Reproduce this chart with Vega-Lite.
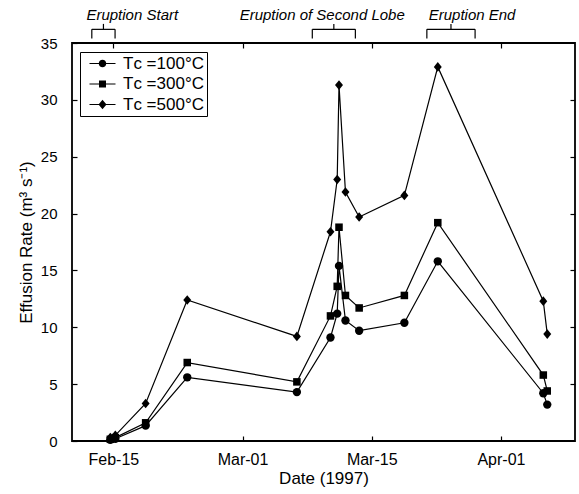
{
  "$schema": "https://vega.github.io/schema/vega-lite/v6.json",
  "width": 503,
  "height": 398,
  "autosize": {"type": "none"},
  "padding": {"left": 72, "top": 43, "right": 4, "bottom": 53},
  "config": {
    "view": {"stroke": "black", "strokeWidth": 1.8},
    "font": "Liberation Sans",
    "axis": {
      "grid": false,
      "domain": false,
      "tickColor": "black",
      "tickSize": -5,
      "tickWidth": 1.2,
      "labelColor": "black",
      "labelFont": "Liberation Sans",
      "labelFontSize": 16,
      "titleFont": "Liberation Sans",
      "titleFontSize": 17,
      "titleFontWeight": "normal",
      "titleColor": "black"
    }
  },
  "datasets": {
    "rates": [
      {"day": 44.65, "tc": 100, "rate": 0.1},
      {"day": 45.23, "tc": 100, "rate": 0.2},
      {"day": 48.75, "tc": 100, "rate": 1.35},
      {"day": 53.58, "tc": 100, "rate": 5.6},
      {"day": 66.31, "tc": 100, "rate": 4.3},
      {"day": 70.21, "tc": 100, "rate": 9.1},
      {"day": 70.99, "tc": 100, "rate": 11.2},
      {"day": 71.2, "tc": 100, "rate": 15.4},
      {"day": 71.95, "tc": 100, "rate": 10.6},
      {"day": 73.54, "tc": 100, "rate": 9.7},
      {"day": 78.79, "tc": 100, "rate": 10.4},
      {"day": 82.67, "tc": 100, "rate": 15.8},
      {"day": 94.92, "tc": 100, "rate": 4.2},
      {"day": 95.38, "tc": 100, "rate": 3.2},
      {"day": 44.65, "tc": 300, "rate": 0.15},
      {"day": 45.23, "tc": 300, "rate": 0.3},
      {"day": 48.75, "tc": 300, "rate": 1.6},
      {"day": 53.58, "tc": 300, "rate": 6.9},
      {"day": 66.31, "tc": 300, "rate": 5.2},
      {"day": 70.21, "tc": 300, "rate": 11.0},
      {"day": 70.99, "tc": 300, "rate": 13.6},
      {"day": 71.2, "tc": 300, "rate": 18.8},
      {"day": 71.95, "tc": 300, "rate": 12.8},
      {"day": 73.54, "tc": 300, "rate": 11.7},
      {"day": 78.79, "tc": 300, "rate": 12.8},
      {"day": 82.67, "tc": 300, "rate": 19.2},
      {"day": 94.92, "tc": 300, "rate": 5.8},
      {"day": 95.38, "tc": 300, "rate": 4.4},
      {"day": 44.65, "tc": 500, "rate": 0.3},
      {"day": 45.23, "tc": 500, "rate": 0.5},
      {"day": 48.75, "tc": 500, "rate": 3.3},
      {"day": 53.58, "tc": 500, "rate": 12.4},
      {"day": 66.31, "tc": 500, "rate": 9.2},
      {"day": 70.21, "tc": 500, "rate": 18.4},
      {"day": 70.99, "tc": 500, "rate": 23.0},
      {"day": 71.2, "tc": 500, "rate": 31.3},
      {"day": 71.95, "tc": 500, "rate": 21.9},
      {"day": 73.54, "tc": 500, "rate": 19.7},
      {"day": 78.79, "tc": 500, "rate": 21.6},
      {"day": 82.67, "tc": 500, "rate": 32.9},
      {"day": 94.92, "tc": 500, "rate": 12.3},
      {"day": 95.38, "tc": 500, "rate": 9.4}
    ],
    "events": [
      {"event": "Eruption Start", "start": 42.5, "end": 45.2, "labelx": 47.2},
      {"event": "Eruption of Second Lobe", "start": 68.1, "end": 73.1, "labelx": 69.25},
      {"event": "Eruption End", "start": 81.4, "end": 87.0, "labelx": 86.65}
    ]
  },
  "layer": [
    {
      "data": {"name": "rates"},
      "mark": {"type": "line", "color": "black", "strokeWidth": 1.2},
      "encoding": {
        "x": {
          "field": "day", "type": "quantitative",
          "scale": {"domain": [40.2, 98.6], "nice": false},
          "axis": {
            "orient": "bottom",
            "values": [45, 60, 75, 90],
            "labelExpr": "datum.value == 45 ? 'Feb-15' : datum.value == 60 ? 'Mar-01' : datum.value == 75 ? 'Mar-15' : 'Apr-01'",
            "title": "Date (1997)",
            "labelPadding": 15,
            "titlePadding": 3
          }
        },
        "y": {
          "field": "rate", "type": "quantitative",
          "scale": {"domain": [0, 35], "nice": false},
          "axis": {
            "orient": "left",
            "values": [0, 5, 10, 15, 20, 25, 30, 35],
            "labelFontSize": 15,
            "title": "Effusion Rate (m³ s⁻¹)",
            "labelPadding": 20,
            "titlePadding": 5
          }
        },
        "detail": {"field": "tc", "type": "nominal"}
      }
    },
    {
      "data": {"name": "rates"},
      "mark": {"type": "point", "filled": true, "color": "black", "size": 70, "opacity": 1},
      "encoding": {
        "x": {
          "field": "day", "type": "quantitative",
          "scale": {"domain": [40.2, 98.6], "nice": false},
          "axis": {"orient": "top", "values": [45, 60, 75, 90], "labels": false, "title": null}
        },
        "y": {
          "field": "rate", "type": "quantitative",
          "scale": {"domain": [0, 35], "nice": false},
          "axis": {"orient": "right", "values": [5, 10, 15, 20, 25, 30], "labels": false, "title": null}
        },
        "shape": {
          "field": "tc", "type": "nominal",
          "scale": {"domain": [100, 300, 500], "range": ["circle", "M-0.9,-0.9H0.9V0.9H-0.9Z", "M0,-1.15L0.95,0L0,1.15L-0.95,0Z"]},
          "legend": null
        }
      }
    },
    {
      "data": {"name": "rates"},
      "mark": {"type": "point", "filled": true, "color": "black", "size": 0, "opacity": 1},
      "encoding": {
        "x": {"field": "day", "type": "quantitative", "axis": null},
        "y": {"field": "rate", "type": "quantitative", "axis": null},
        "shape": {
          "field": "tc", "type": "nominal",
          "scale": {"domain": [100, 300, 500], "range": [
            "M-2.6,-0.12H2.6V0.12H-2.6ZM-0.75,0A0.75,0.75,0,1,1,0.75,0A0.75,0.75,0,1,1,-0.75,0Z",
            "M-2.6,-0.12H2.6V0.12H-2.6ZM-0.7,-0.7H0.7V0.7H-0.7Z",
            "M-2.6,-0.12H2.6V0.12H-2.6ZM0,-0.95L0.8,0L0,0.95L-0.8,0Z"
          ]},
          "legend": {
            "title": null,
            "orient": "none",
            "legendX": 8,
            "legendY": 9,
            "strokeColor": "black",
            "fillColor": "white",
            "padding": 3,
            "symbolSize": 100,
            "symbolStrokeWidth": 0,
            "symbolFillColor": "black",
            "symbolOpacity": 1,
            "symbolOffset": 11,
            "labelOffset": 12,
            "rowPadding": 2.5,
            "labelFont": "Liberation Sans",
            "labelFontSize": 17,
            "labelColor": "black",
            "labelExpr": "'Tᴄ =' + datum.label + '°C\u00a0\u00a0'"
          }
        }
      }
    },
    {
      "data": {"name": "events"},
      "mark": {"type": "rule", "color": "black", "strokeWidth": 1.2, "clip": false},
      "encoding": {
        "x": {"field": "start", "type": "quantitative", "axis": null},
        "x2": {"field": "end"},
        "y": {"datum": 36.2, "type": "quantitative", "axis": null}
      }
    },
    {
      "data": {"name": "events"},
      "mark": {"type": "rule", "color": "black", "strokeWidth": 1.2, "clip": false},
      "encoding": {
        "x": {"field": "start", "type": "quantitative", "axis": null},
        "y": {"datum": 35.39, "type": "quantitative", "axis": null},
        "y2": {"datum": 36.2}
      }
    },
    {
      "data": {"name": "events"},
      "mark": {"type": "rule", "color": "black", "strokeWidth": 1.2, "clip": false},
      "encoding": {
        "x": {"field": "end", "type": "quantitative", "axis": null},
        "y": {"datum": 35.39, "type": "quantitative", "axis": null},
        "y2": {"datum": 36.2}
      }
    },
    {
      "data": {"name": "events"},
      "transform": [{"calculate": "(datum.start + datum.end) / 2", "as": "mid"}],
      "mark": {"type": "rule", "color": "black", "strokeWidth": 1.2, "clip": false},
      "encoding": {
        "x": {"field": "mid", "type": "quantitative", "axis": null},
        "y": {"datum": 36.2, "type": "quantitative", "axis": null},
        "y2": {"datum": 36.68}
      }
    },
    {
      "data": {"name": "events"},
      "mark": {"type": "text", "color": "black", "font": "Liberation Sans", "fontSize": 15, "fontStyle": "italic", "align": "center", "baseline": "alphabetic", "clip": false},
      "encoding": {
        "x": {"field": "labelx", "type": "quantitative", "axis": null},
        "y": {"datum": 37.05, "type": "quantitative", "axis": null},
        "text": {"field": "event", "type": "nominal"}
      }
    }
  ],
  "resolve": {"axis": {"x": "independent", "y": "independent"}, "scale": {"shape": "independent"}}
}
